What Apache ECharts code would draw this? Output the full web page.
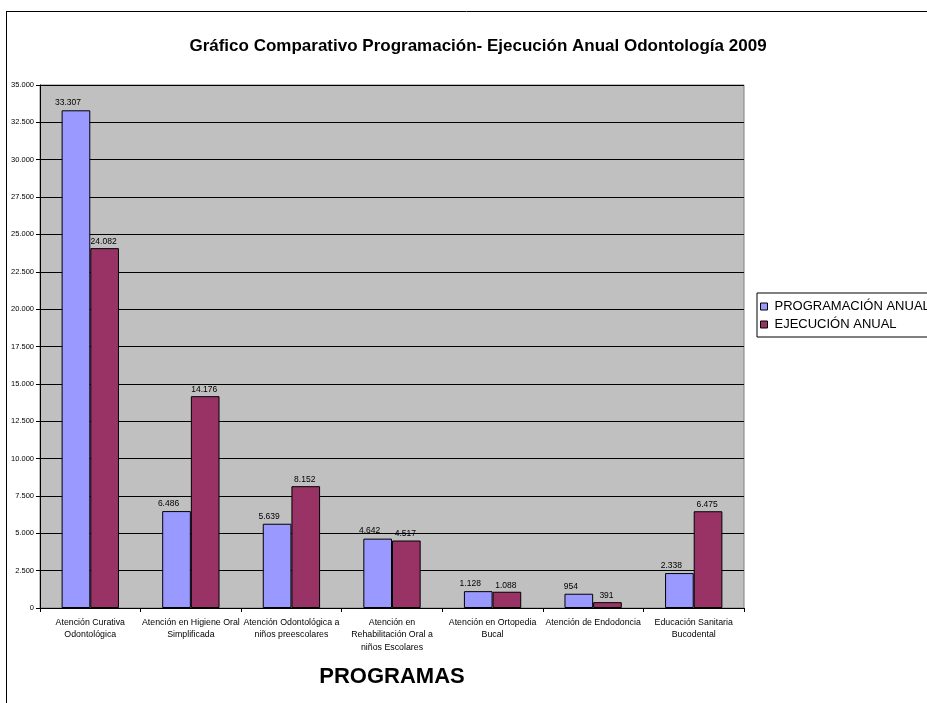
<!DOCTYPE html>
<html>
<head>
<meta charset="utf-8">
<script src="https://cdn.jsdelivr.net/npm/echarts@6/dist/echarts.min.js"></script>
<style>html,body{margin:0;padding:0;background:#fff}#c{width:927px;height:703px}</style>
</head>
<body>
<div id="c"></div>
<script>
const categories = [
  "Atención Curativa\nOdontológica",
  "Atención en Higiene Oral\nSimplificada",
  "Atención Odontológica a\nniños preescolares",
  "Atención en\nRehabilitación Oral a\nniños Escolares",
  "Atención en Ortopedia\nBucal",
  "Atención de Endodoncia",
  "Educación Sanitaria\nBucodental"
];
const programacion = [33307, 6486, 5639, 4642, 1128, 954, 2338];
const ejecucion = [24082, 14176, 8152, 4517, 1088, 391, 6475];
const seriesNames = ["PROGRAMACIÓN ANUAL", "EJECUCIÓN ANUAL"];
const yTicks = { min: 0, max: 35000, interval: 2500 };

function fmt(v) {
  return String(v).replace(/\B(?=(\d{3})+(?!\d))/g, ".");
}
const font = "'Liberation Sans', Arial, sans-serif";
const chart = echarts.init(document.getElementById('c'), null, { renderer: 'canvas' });
chart.setOption({
  animation: false,
  backgroundColor: '#fff',
  title: {
    text: 'Gráfico Comparativo Programación- Ejecución Anual Odontología 2009',
    left: 473, top: 33, textAlign: 'center',
    textStyle: { fontFamily: font, fontSize: 17, fontWeight: 'bold', color: '#000' }
  },
  legend: {
    orient: 'vertical', left: 757, top: 293,
    borderColor: '#000', borderWidth: 1, padding: [7, 40, 6, 3],
    itemWidth: 7, itemHeight: 7, itemGap: 5, icon: 'rect',
    itemStyle: { borderColor: '#000', borderWidth: 1 },
    textStyle: { fontFamily: font, fontSize: 13, color: '#000', padding: [0, 0, 0, 2] },
    data: seriesNames
  },
  grid: { left: 40, right: 183, top: 85, bottom: 95, show: true, backgroundColor: '#C0C0C0', borderColor: '#808080', borderWidth: 1 },
  xAxis: {
    type: 'category', data: categories,
    axisLine: { lineStyle: { color: '#000' } },
    axisTick: { show: true, alignWithLabel: false, length: 4, lineStyle: { color: '#000' } },
    axisLabel: { interval: 0, fontFamily: font, fontSize: 8.8, color: '#000', lineHeight: 12.5, margin: 8 },
    name: 'PROGRAMAS', nameLocation: 'middle', nameGap: 58,
    nameTextStyle: { fontFamily: font, fontSize: 22, fontWeight: 'bold', color: '#000' }
  },
  yAxis: {
    type: 'value', min: yTicks.min, max: yTicks.max, interval: yTicks.interval,
    axisLine: { show: true, lineStyle: { color: '#000' } },
    axisTick: { show: true, length: 4, lineStyle: { color: '#000' } },
    axisLabel: { fontFamily: font, fontSize: 7.5, color: '#000', margin: 6, formatter: v => fmt(v) },
    splitLine: { show: true, lineStyle: { color: '#000', width: 1 } }
  },
  series: [
    {
      name: seriesNames[0], type: 'bar', data: programacion, barWidth: '28.5%', barGap: '0%',
      itemStyle: { color: '#9999FF', borderColor: '#000', borderWidth: 1 },
      label: { show: true, position: 'top', distance: 3, offset: [-8, 0], fontFamily: font, fontSize: 8.5, color: '#000', formatter: p => fmt(p.value) }
    },
    {
      name: seriesNames[1], type: 'bar', data: ejecucion, barWidth: '28.5%', barGap: '0%',
      itemStyle: { color: '#993366', borderColor: '#000', borderWidth: 1 },
      label: { show: true, position: 'top', distance: 2, offset: [-1, 0], fontFamily: font, fontSize: 8.5, color: '#000', formatter: p => fmt(p.value) }
    }
  ],
  graphic: [
    { type: 'line', shape: { x1: 6.5, y1: 11, x2: 6.5, y2: 703 }, style: { stroke: '#000', lineWidth: 1 } },
    { type: 'line', shape: { x1: 6, y1: 11.5, x2: 927, y2: 11.5 }, style: { stroke: '#000', lineWidth: 1 } }
  ]
});
</script>
</body>
</html>
